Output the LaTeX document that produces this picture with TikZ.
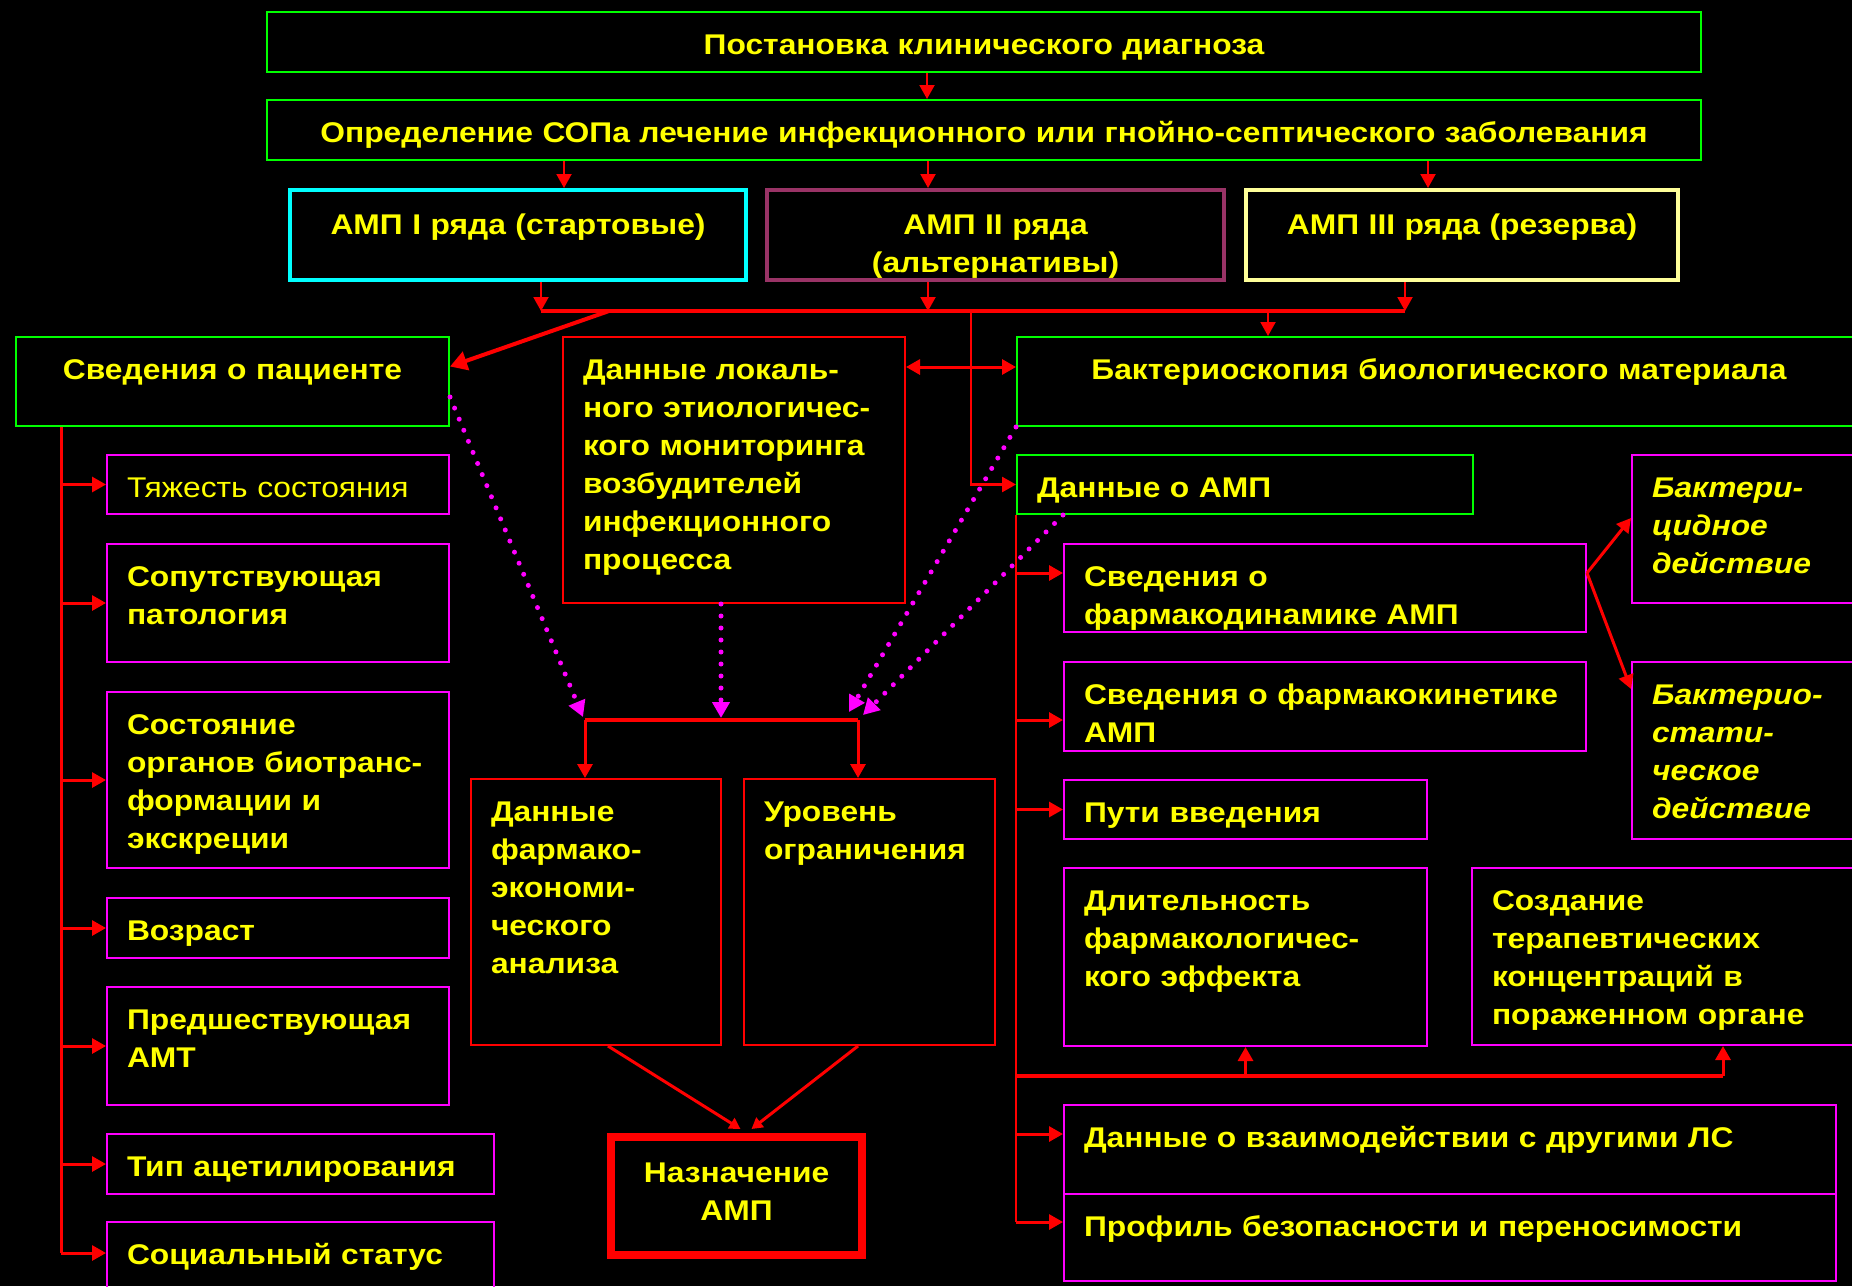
\documentclass[tikz,border=0pt]{standalone}
\usepackage{fontspec}
\setmainfont{Liberation Sans}[FakeStretch=1.115]
\usetikzlibrary{arrows.meta, positioning, calc}
\definecolor{bgBlack}{HTML}{000000}
\definecolor{txtYellow}{HTML}{FFFF00}
\definecolor{boxGreen}{HTML}{00FF00}
\definecolor{boxMagenta}{HTML}{FF00FF}
\definecolor{lnRed}{HTML}{FF0000}
\definecolor{boxCyan}{HTML}{00FFFF}
\definecolor{boxPlum}{HTML}{993366}
\definecolor{boxCream}{HTML}{FFFF99}

\begin{document}
\begin{tikzpicture}[
  x=1pt, y=-1pt,
  cell/.style={draw, line width=2pt, anchor=north west, inner xsep=20pt,
               inner ysep=0pt, text height=42pt, align=left, text=txtYellow,
               font=\fontsize{28.5}{38}\selectfont\bfseries},
  ctr/.style={align=center},
  grnbox/.style={draw=boxGreen},
  magbox/.style={draw=boxMagenta},
  redbox/.style={draw=lnRed},
  ampbox/.style={line width=4pt, text height=44pt, text depth=46pt, ctr},
  lite/.style={font=\fontsize{28.5}{38}\selectfont},
  slant/.style={font=\fontsize{28.5}{38}\selectfont\bfseries\itshape},
  arr/.style={draw=lnRed, line width=2.5pt, -{Triangle[width=15pt,length=14pt]}},
  darr/.style={draw=lnRed, line width=3pt,
               {Triangle[width=15pt,length=14pt]}-{Triangle[width=15pt,length=14pt]}},
  bus/.style={draw=lnRed, line width=4pt},
  trunk/.style={draw=lnRed, line width=2.5pt},
  dots/.style={draw=boxMagenta, line width=5pt, line cap=round,
               dash pattern=on 0pt off 12pt,
               -{Triangle[width=17pt,length=16pt,fill=boxMagenta]}}
]
  \useasboundingbox (0,0) rectangle (1852,1286);
  \fill[bgBlack] (0,0) rectangle (1852,1286);

  % top of the scheme
  \node[cell, grnbox, ctr, text width=1394pt, text depth=18pt] (diag) at (266,11)
    {Постановка клинического диагноза};
  \node[cell, grnbox, ctr, text width=1394pt, text depth=18pt] (sop) at (266,99)
    {Определение СОПа лечение инфекционного или гнойно-септического заболевания};
  \node[cell, ampbox, draw=boxCyan, text width=416pt] (amp1) at (288,188)
    {АМП I ряда (стартовые)};
  \node[cell, ampbox, draw=boxPlum, text width=417pt] (amp2) at (765,188)
    {АМП II ряда\\(альтернативы)};
  \node[cell, ampbox, draw=boxCream, text width=392pt] (amp3) at (1244,188)
    {АМП III ряда (резерва)};

  % second level
  \node[cell, grnbox, ctr, text width=393pt, text depth=47pt] (pac) at (15,336)
    {Сведения о пациенте};
  \node[cell, redbox, text width=302pt, text depth=224pt] (lok) at (562,336)
    {Данные локаль-\\ного этиологичес-\\кого мониторинга\\возбудителей\\инфекционного\\процесса};
  \node[cell, grnbox, ctr, text width=804pt, text depth=47pt] (bakt) at (1016,336)
    {Бактериоскопия биологического материала};

  % patient column
  \node[cell, magbox, lite, text width=302pt, text depth=17pt] (tyazh) at (106,454)
    {Тяжесть состояния};
  \node[cell, magbox, text width=302pt, text depth=76pt] (soput) at (106,543)
    {Сопутствующая\\патология};
  \node[cell, magbox, text width=302pt, text depth=134pt] (sost) at (106,691)
    {Состояние\\органов~биотранс-\\формации и\\экскреции};
  \node[cell, magbox, text width=302pt, text depth=18pt] (vozr) at (106,897)
    {Возраст};
  \node[cell, magbox, text width=302pt, text depth=76pt] (pred) at (106,986)
    {Предшествующая\\АМТ};
  \node[cell, magbox, text width=347pt, text depth=18pt] (tip) at (106,1133)
    {Тип~ацетилирования};
  \node[cell, magbox, text width=347pt, text depth=47pt] (soc) at (106,1221)
    {Социальный~статус};

  % drug column
  \node[cell, grnbox, text width=416pt, text depth=17pt] (damp) at (1016,454)
    {Данные о АМП};
  \node[cell, magbox, text width=482pt, text depth=46pt] (fdin) at (1063,543)
    {Сведения о\\фармакодинамике~АМП};
  \node[cell, magbox, text width=482pt, text depth=47pt] (fkin) at (1063,661)
    {Сведения~о~фармакокинетике\\АМП};
  \node[cell, magbox, text width=323pt, text depth=17pt] (puti) at (1063,779)
    {Пути введения};
  \node[cell, magbox, text width=323pt, text depth=136pt] (dlit) at (1063,867)
    {Длительность\\фармакологичес-\\кого~эффекта};
  \node[cell, magbox, text width=349pt, text depth=135pt] (sozd) at (1471,867)
    {Создание\\терапевтических\\концентраций~в\\пораженном~органе};
  \node[cell, magbox, text width=732pt, text depth=47pt] (vzaim) at (1063,1104)
    {Данные о взаимодействии с другими ЛС};
  \node[cell, magbox, text width=732pt, text depth=45pt] (prof) at (1063,1193)
    {Профиль безопасности и переносимости};
  \node[cell, magbox, slant, text width=189pt, text depth=106pt] (bcid) at (1631,454)
    {Бактери-\\цидное\\действие};
  \node[cell, magbox, slant, text width=189pt, text depth=135pt] (bstat) at (1631,661)
    {Бактерио-\\стати-\\ческое\\действие};

  % middle column
  \node[cell, redbox, text width=210pt, text depth=224pt] (fek) at (470,778)
    {Данные\\фармако-\\экономи-\\ческого\\анализа};
  \node[cell, redbox, text width=211pt, text depth=224pt] (ogr) at (743,778)
    {Уровень\\ограничения};
  \node[cell, redbox, ctr, line width=8pt, text width=211pt, text height=45pt,
        text depth=73pt] (nazn) at (607,1133)
    {Назначение\\АМП};

  % arrows from the top boxes
  \coordinate (sopin) at ([xshift=-57pt]sop.north);
  \coordinate (a1in) at ([xshift=46pt]amp1.north);
  \coordinate (a2in) at ([xshift=-67.5pt]amp2.north);
  \coordinate (a3in) at ([xshift=-34pt]amp3.north);
  \draw[arr, line width=2pt] (sopin |- diag.south) -- (sopin);
  \foreach \a in {a1in, a2in, a3in}
    \draw[arr, line width=2pt] (\a |- sop.south) -- (\a);

  % upper bus
  \coordinate (busW) at ([xshift=23pt,yshift=-29pt]amp1.south);
  \coordinate (busE) at ([xshift=-57pt,yshift=-29pt]amp3.south);
  \draw[arr, line width=2pt] (busW |- amp1.south) -- (busW);
  \draw[arr, line width=2pt] (a2in |- amp2.south) -- (a2in |- busW);
  \draw[arr, line width=2pt] (busE |- amp3.south) -- (busE);
  \draw[bus] (busW) -- (busE);
  \draw[arr, line width=4pt, -{Triangle[width=19pt,length=17pt]}]
    ([xshift=68pt]busW) -- ([yshift=15pt]pac.east);
  \coordinate (bkin) at ([xshift=-171pt]bakt.north);
  \draw[arr, line width=2pt] (bkin |- busW) -- (bkin);
  \coordinate (rise) at ([xshift=-45pt]damp.west);
  \draw[arr] (rise |- busW) -- (rise) -- (damp.west);
  \coordinate (lkb) at ([yshift=14.5pt]bakt.west);
  \draw[darr] (lkb -| lok.east) -- (lkb);

  % patient column links
  \coordinate (ltrunk) at ([xshift=46pt]pac.south west);
  \coordinate (socin) at ([yshift=13.5pt]soc.west);
  \draw[trunk, line width=3pt] (ltrunk) -- (ltrunk |- socin);
  \foreach \b in {tyazh, soput, sost, vozr, pred, tip}
    \draw[arr, line width=3pt] (ltrunk |- \b.west) -- (\b.west);
  \draw[arr, line width=3pt] (ltrunk |- socin) -- (socin);

  % drug column links
  \coordinate (rtrunk) at (damp.south west);
  \coordinate (fdinL) at ([yshift=15pt]fdin.west);
  \coordinate (fkinL) at ([yshift=-13.5pt]fkin.west);
  \coordinate (vzaimL) at ([yshift=15.5pt]vzaim.west);
  \coordinate (profL) at ([yshift=15.5pt]prof.west);
  \draw[trunk, line width=2pt] (rtrunk) -- (rtrunk |- profL);
  \foreach \c in {fdinL, fkinL, puti.west, vzaimL, profL}
    \draw[arr, line width=3pt] (rtrunk |- \c) -- (\c);
  \coordinate (hub) at ([yshift=-29pt]dlit.south);
  \coordinate (sdin) at ([xshift=56.5pt]sozd.south);
  \draw[bus, line width=3.5pt] (rtrunk |- hub) -- (sdin |- hub);
  \draw[arr, line width=3pt] (hub) -- (dlit.south);
  \draw[arr, line width=3pt] (sdin |- hub) -- (sdin);
  \coordinate (fdout) at ([yshift=15pt]fdin.east);
  \draw[arr, line width=3pt] (fdout) -- ([yshift=11pt]bcid.west);
  \draw[arr, line width=3pt] (fdout) -- ([yshift=61.5pt]bstat.west);

  % lower bus
  \coordinate (lbW) at ([xshift=-11pt,yshift=58pt]fek.north);
  \coordinate (lbE) at ([xshift=-11.5pt,yshift=58pt]ogr.north);
  \draw[bus, line width=3.5pt] (lbW) -- (lbE);
  \draw[arr, line width=3pt] (lbW) -- (lbW |- fek.north);
  \draw[arr, line width=3pt] (lbE) -- (lbE |- ogr.north);

  % dotted inputs
  \coordinate (lkout) at ([xshift=-13pt]lok.south);
  \draw[dots] ([yshift=30pt]pac.south east) -- ([xshift=-2pt,yshift=3pt]lbW);
  \draw[dots] (lkout) -- ([yshift=2pt]lkout |- lbW);
  \draw[dots] (bakt.south west) -- ([xshift=-9pt,yshift=8pt]lbE);
  \draw[dots] ([xshift=47pt]damp.south west) -- ([xshift=5pt,yshift=5pt]lbE);

  % to the prescription
  \draw[arr, line width=3pt, -{Triangle[width=12pt,length=11pt]}]
    ([xshift=12pt]fek.south) -- ([xshift=4pt,yshift=4pt]nazn.north);
  \draw[arr, line width=3pt, -{Triangle[width=12pt,length=11pt]}]
    ([xshift=-11.5pt]ogr.south) -- ([xshift=15pt,yshift=4pt]nazn.north);
\end{tikzpicture}
\end{document}
